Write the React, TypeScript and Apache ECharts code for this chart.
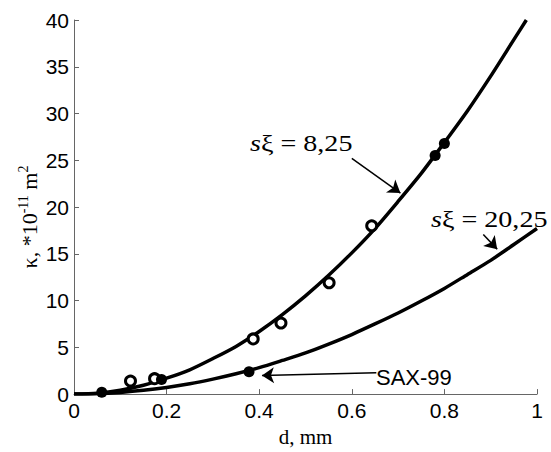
import React, { useEffect, useRef } from "react";
import * as echarts from "echarts";

// Fitted curve sξ = 8,25
const upperD = [0, 0.05, 0.1, 0.15, 0.2, 0.25, 0.3, 0.35, 0.4, 0.45, 0.5, 0.55, 0.6, 0.65, 0.7, 0.75, 0.8, 0.85, 0.9, 0.95, 0.977];
const upperK = [0, 0.1, 0.42, 0.95, 1.7, 2.6, 3.8, 5.1, 6.7, 8.5, 10.5, 12.7, 15.1, 17.7, 20.6, 23.6, 26.9, 30.3, 34.0, 37.9, 40.0];
// Fitted curve sξ = 20,25
const lowerD = [0, 0.05, 0.1, 0.15, 0.2, 0.25, 0.3, 0.35, 0.4, 0.45, 0.5, 0.55, 0.6, 0.65, 0.7, 0.75, 0.8, 0.85, 0.9, 0.95, 1.0];
const lowerK = [0, 0.04, 0.18, 0.4, 0.71, 1.1, 1.6, 2.17, 2.83, 3.6, 4.4, 5.35, 6.37, 7.5, 8.67, 9.95, 11.3, 12.8, 14.3, 16.0, 17.7];
// Measured points (open circles)
const openD = [0.122, 0.174, 0.387, 0.447, 0.551, 0.643];
const openK = [1.4, 1.65, 5.9, 7.6, 11.9, 18.0];
// Measured points (filled dots)
const filledD = [0.06, 0.189, 0.378, 0.78, 0.8];
const filledK = [0.2, 1.55, 2.4, 25.5, 26.8];
// Annotation arrows [fromD, fromK, toD, toK]
const arrows = [
  [0.6, 25.2, 0.705, 21.5],
  [0.884, 17.07, 0.914, 15.5],
  [0.653, 2.28, 0.406, 1.98],
];
const xTicks = { min: 0, max: 1, interval: 0.2 };
const yTicks = { min: 0, max: 40, interval: 5 };

const SERIF = "Liberation Serif";
const SANS = "Liberation Sans";

export default function App() {
  const ref = useRef<HTMLDivElement>(null);
  useEffect(() => {
    if (!ref.current) return;
    const chart = echarts.init(ref.current, undefined, { renderer: "svg" });
    const axisColor = "#666";
    const zip = (a: number[], b: number[]) => a.map((v, i) => [v, b[i]]);
    const rich = (size: number) => ({
      i: { fontFamily: SERIF, fontStyle: "italic", fontSize: size, fill: "#000" },
      r: { fontFamily: SERIF, fontSize: size, fill: "#000" },
    });
    chart.setOption({
      animation: false,
      backgroundColor: "#fff",
      grid: { left: 74, right: 14, top: 20, bottom: 54 },
      xAxis: {
        type: "value",
        ...xTicks,
        name: "d, mm",
        nameLocation: "middle",
        nameGap: 31,
        nameTextStyle: { fontFamily: SERIF, fontSize: 21, color: "#000" },
        axisLine: { lineStyle: { color: axisColor, width: 1 } },
        axisTick: { inside: true, length: 5, lineStyle: { color: axisColor } },
        axisLabel: { color: "#000", fontFamily: SANS, fontSize: 21, margin: 6 },
        splitLine: { show: false },
      },
      yAxis: {
        type: "value",
        ...yTicks,
        axisLine: { show: true, lineStyle: { color: axisColor, width: 1 } },
        axisTick: { show: true, inside: true, length: 5, lineStyle: { color: axisColor } },
        axisLabel: { color: "#000", fontFamily: SANS, fontSize: 21, margin: 5 },
        splitLine: { show: false },
      },
      graphic: [
        {
          type: "text",
          x: 29,
          y: 217,
          rotation: Math.PI / 2,
          style: {
            text: "{a|κ, *10}{s|-11}{a| m}{s|2}",
            align: "center",
            verticalAlign: "middle",
            rich: {
              a: { fontFamily: SERIF, fontSize: 22, lineHeight: 26, fill: "#000" },
              s: { fontFamily: SERIF, fontSize: 14, lineHeight: 14, verticalAlign: "top", fill: "#000" },
            },
          },
        },
        {
          type: "text",
          x: 250,
          y: 143,
          scaleX: 1.17,
          style: { text: "{i|s}{r|ξ = 8,25}", align: "left", verticalAlign: "middle", rich: rich(24) },
        },
        {
          type: "text",
          x: 431,
          y: 219,
          scaleX: 1.17,
          style: { text: "{i|s}{r|ξ = 20,25}", align: "left", verticalAlign: "middle", rich: rich(24) },
        },
        {
          type: "text",
          x: 376,
          y: 377,
          style: { text: "SAX-99", fontFamily: SANS, fontSize: 22, fill: "#000", align: "left", verticalAlign: "middle" },
        },
      ],
      series: [
        {
          type: "line",
          data: zip(upperD, upperK),
          showSymbol: false,
          smooth: 0.25,
          lineStyle: { color: "#000", width: 3.5 },
          z: 2,
        },
        {
          type: "line",
          data: zip(lowerD, lowerK),
          showSymbol: false,
          smooth: 0.25,
          lineStyle: { color: "#000", width: 3.5 },
          z: 2,
        },
        {
          type: "scatter",
          data: zip(openD, openK),
          symbol: "circle",
          symbolSize: 10,
          itemStyle: { color: "#fff", borderColor: "#000", borderWidth: 3, opacity: 1 },
          z: 3,
        },
        {
          type: "scatter",
          data: zip(filledD, filledK),
          symbol: "circle",
          symbolSize: 11,
          itemStyle: { color: "#000", opacity: 1 },
          z: 3,
          markLine: {
            silent: true,
            symbol: ["none", "arrow"],
            symbolSize: 12,
            label: { show: false },
            itemStyle: { color: "#000" },
            lineStyle: { color: "#000", width: 1.5, type: "solid", opacity: 1 },
            emphasis: { disabled: true },
            data: arrows.map((a) => [{ coord: [a[0], a[1]] }, { coord: [a[2], a[3]] }]),
          },
        },
      ],
    });
    return () => chart.dispose();
  }, []);
  return (
    <div
      ref={ref}
      style={{ position: "absolute", left: 0, top: 0, width: 551, height: 452 }}
    />
  );
}
